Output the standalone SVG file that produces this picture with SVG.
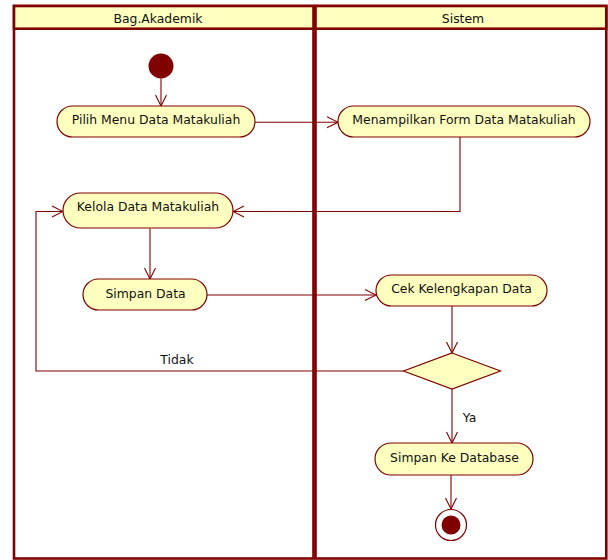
<svg xmlns="http://www.w3.org/2000/svg" width="608" height="560" viewBox="0 0 608 560">
  <style>
    .lane { fill: #ffffff; stroke: #800000; stroke-width: 2.6; }
    .head { fill: #ffffc0; stroke: #800000; stroke-width: 2.6; }
    .act { fill: #ffffc0; stroke: #800000; stroke-width: 1.2; }
    .flow { fill: none; stroke: #800000; stroke-width: 1.1; }
    text { font-family: "DejaVu Sans", Verdana, sans-serif; font-size: 12.4px; fill: #111111; text-anchor: middle; }
  </style>
  <defs>
    <marker id="open-arrow" markerUnits="userSpaceOnUse" markerWidth="13" markerHeight="13" viewBox="0 0 13 13" refX="12" refY="6.5" orient="auto">
      <path d="M1,1 L12,6.5 L1,12" fill="none" stroke="#800000" stroke-width="1.1"/>
    </marker>
  </defs>

  <!-- swimlanes -->
  <g id="lane-akademik">
    <rect class="lane" x="14" y="6" width="299.5" height="552.5"/>
    <rect class="head" x="14" y="6" width="299.5" height="22.7"/>
    <text x="158" y="23.3">Bag.Akademik</text>
  </g>
  <g id="lane-sistem">
    <rect class="lane" x="315.5" y="6" width="290.8" height="552.5"/>
    <rect class="head" x="315.5" y="6" width="290.8" height="22.7"/>
    <text x="463" y="23.3">Sistem</text>
  </g>

  <!-- connectors -->
  <g id="connectors">
    <path class="flow" d="M161,78.5 L161,106" marker-end="url(#open-arrow)"/>
    <path class="flow" d="M255,122.3 L338,122.3" marker-end="url(#open-arrow)"/>
    <path class="flow" d="M460,137 L460,211.5 L233,211.5" marker-end="url(#open-arrow)"/>
    <path class="flow" d="M150,228.5 L150,279" marker-end="url(#open-arrow)"/>
    <path class="flow" d="M207,295 L376,295" marker-end="url(#open-arrow)"/>
    <path class="flow" d="M452,306 L452,353" marker-end="url(#open-arrow)"/>
    <path class="flow" d="M403.5,371 L36,371 L36,211.5 L63,211.5" marker-end="url(#open-arrow)"/>
    <path class="flow" d="M452,389 L452,443" marker-end="url(#open-arrow)"/>
    <path class="flow" d="M451,475 L451,509" marker-end="url(#open-arrow)"/>
    <text x="177" y="364">Tidak</text>
    <text x="469.5" y="422">Ya</text>
  </g>

  <!-- nodes -->
  <g id="start">
    <circle cx="161" cy="66" r="12.5" fill="#800000"/>
  </g>
  <g id="pilih-menu">
    <rect class="act" x="57" y="106" width="198" height="31" rx="15.5"/>
    <text x="156" y="124">Pilih Menu Data Matakuliah</text>
  </g>
  <g id="tampil-form">
    <rect class="act" x="338" y="106" width="252" height="31" rx="15.5"/>
    <text x="464" y="124">Menampilkan Form Data Matakuliah</text>
  </g>
  <g id="kelola-data">
    <rect class="act" x="63" y="193" width="170" height="35" rx="17.5"/>
    <text x="148" y="211">Kelola Data Matakuliah</text>
  </g>
  <g id="simpan-data">
    <rect class="act" x="83" y="279" width="124" height="31" rx="15.5"/>
    <text x="145.5" y="298">Simpan Data</text>
  </g>
  <g id="cek-kelengkapan">
    <rect class="act" x="376" y="275" width="171" height="31" rx="15.5"/>
    <text x="461.5" y="293">Cek Kelengkapan Data</text>
  </g>
  <g id="keputusan">
    <polygon class="act" points="452,353 500.5,371 452,389 403.5,371"/>
  </g>
  <g id="simpan-database">
    <rect class="act" x="375" y="443" width="158" height="32" rx="16"/>
    <text x="454.5" y="462">Simpan Ke Database</text>
  </g>
  <g id="end">
    <circle cx="451" cy="525" r="15.5" fill="#ffffff" stroke="#800000" stroke-width="1.2"/>
    <circle cx="451" cy="525" r="9.5" fill="#800000"/>
  </g>
</svg>
